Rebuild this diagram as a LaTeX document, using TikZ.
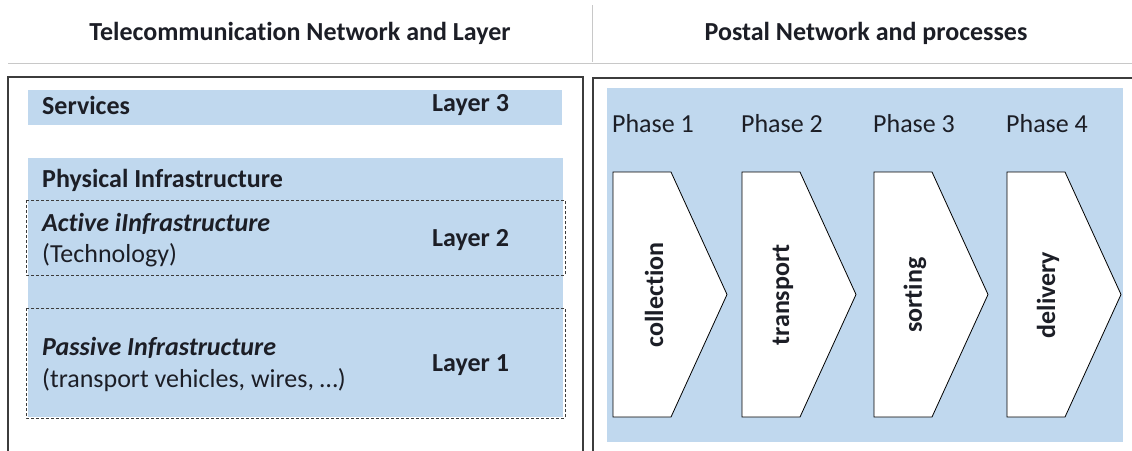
\documentclass[tikz,border=0pt]{standalone}
\usepackage{fontspec}
\setmainfont{Carlito}[Ligatures=NoCommon]
\definecolor{lblue}{RGB}{192,216,238}
\definecolor{sepgray}{RGB}{200,200,200}
\definecolor{boxgray}{RGB}{60,60,60}
\definecolor{inkc}{RGB}{28,30,38}
\begin{document}
\begin{tikzpicture}[x=1pt,y=-1pt,
  txt/.style={font=\fontsize{26}{30}\selectfont, inner sep=0pt, text=inkc},
  btxt/.style={txt, font=\fontsize{26}{30}\selectfont\bfseries},
  dashbox/.style={draw=boxgray, line width=0.7pt, dash pattern=on 3pt off 2pt},
  chev/.style={fill=white, draw=black, line width=0.8pt, line join=miter}]
\useasboundingbox (0,0) rectangle (1132,450);
\clip (0,0) rectangle (1132,450);
\fill[white] (0,0) rectangle (1132,450);
% headers
\node[btxt] (h1) at (300,33) {Telecommunication Network and Layer};
\node[btxt] (h2) at (866,33) {Postal Network and processes};
\draw[sepgray, line width=1pt] (8,63) -- (1132,63);
\draw[sepgray, line width=0.8pt] (592,5) -- (592,62);
% left frame
\draw[boxgray, line width=1.2pt] (8,77) rectangle (583,470);
\fill[lblue] (28,90) rectangle (562,125);
\fill[lblue] (28,158) rectangle (563,417);
\draw[dashbox] (26,200) rectangle (565,275);
\draw[dashbox] (26,308) rectangle (565,418);
\node[btxt, anchor=west] (serv) at (42,105) {Services};
\node[btxt, anchor=west] (l3) at (432,105) {Layer 3};
\node[btxt, anchor=west] (phys) at (42,180) {Physical Infrastructure};
\node[btxt, anchor=west] (act) at (42,224) {\itshape Active iInfrastructure};
\node[txt, anchor=west] (tech) at (42,255) {(Technology)};
\node[btxt, anchor=west] (l2) at (432,240) {Layer 2};
\node[btxt, anchor=west] (pas) at (42,348) {\itshape Passive Infrastructure};
\node[txt, anchor=west] (veh) at (42,380) {(transport vehicles, wires, …)};
\node[btxt, anchor=west] (l1) at (432,365) {Layer 1};
% right frame
\draw[boxgray, line width=1.2pt] (593,78) rectangle (1145,470);
\fill[lblue] (607,88) rectangle (1123,442);
\foreach \L/\n/\w [count=\i] in {613/1/collection,742/2/transport,874/3/sorting,1007/4/delivery}{
  \node[txt] (ph\i) at (\L+40,124) {Phase \n};
  \draw[chev] (\L,172) -- (\L+58,172) -- (\L+114,294.5) -- (\L+58,417) -- (\L,417) -- cycle;
  \node[btxt, rotate=90] (w\i) at (\L+41,295) {\w};
}
\end{tikzpicture}
\end{document}
